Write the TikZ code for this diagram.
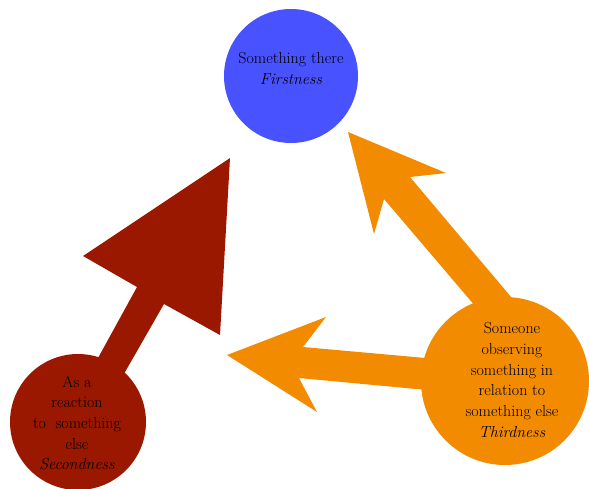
\documentclass[tikz,border=0pt]{standalone}
\usepackage{fontspec}
\definecolor{cblue}{RGB}{72,82,255}
\definecolor{cred}{RGB}{155,24,0}
\definecolor{corange}{RGB}{243,139,0}
\begin{document}
\begin{tikzpicture}[x=1pt,y=-1pt,
  ball/.style={circle, inner sep=0pt, draw=none},
  txt/.style={align=center, inner sep=0pt, text=black, font=\fontsize{16}{20.7}\selectfont}]
\useasboundingbox (0,0) rectangle (589,488);
% arrows
\fill[cred] (81,389) -- (137,287) -- (83,256) -- (230,158) -- (220,335) -- (164,304) -- (109,400) -- cycle;
\fill[corange] (487,320) -- (384,199) -- (374,234) -- (348,132) -- (446,173) -- (410,177) -- (522,310) -- cycle;
\fill[corange] (470,362) -- (303,347) -- (326,317) -- (227,355) -- (317,412) -- (299,378) -- (470,394) -- cycle;
% circles
\node[ball, fill=cblue, minimum size=134pt] (first) at (291,76) {};
\node[ball, fill=cred, minimum size=136pt] (second) at (78,422) {};
\node[ball, fill=corange, minimum size=168pt] (third) at (505,381) {};
% texts
\node[txt] (t1) at (291,68.5) {Something there\\\textit{Firstness}};
\node[txt] (t2) at (77,423) {As a\\reaction\\to~ something\\else\\\textit{Secondness}};
\node[txt] (t3) at (512,380) {Someone\\observing\\something in\\relation to\\something else\\\textit{Thirdness}};
\end{tikzpicture}
\end{document}
